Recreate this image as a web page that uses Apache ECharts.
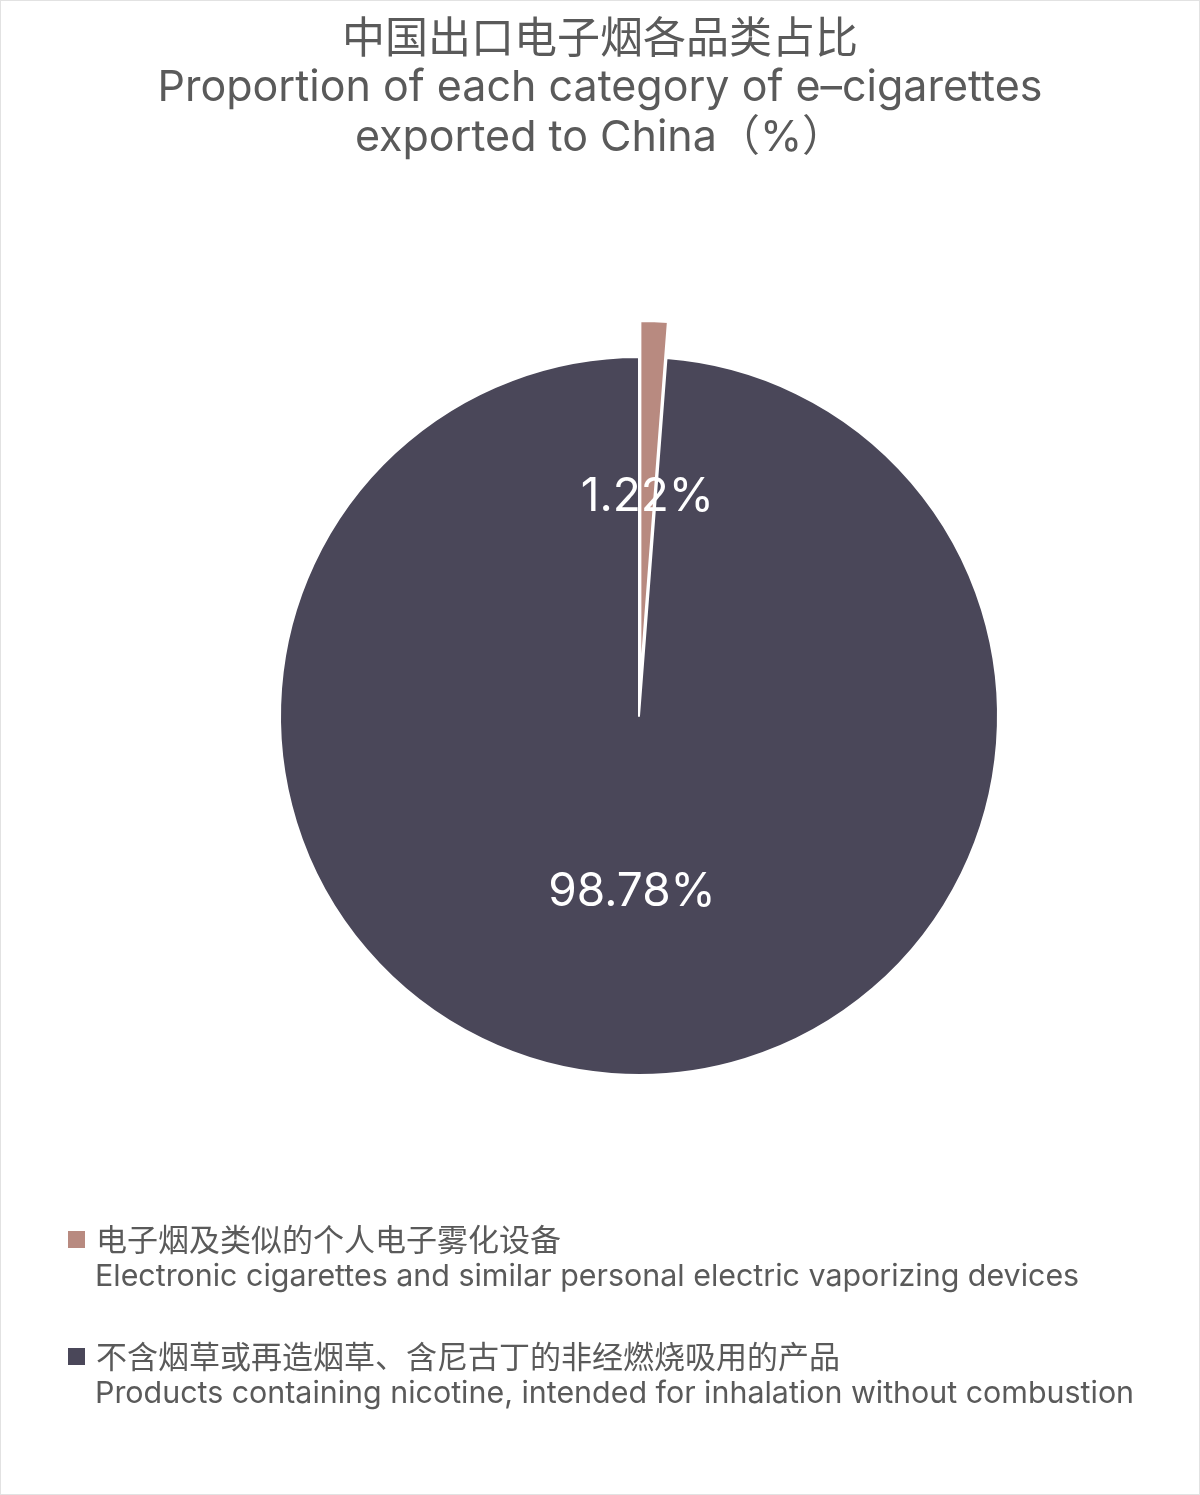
<!DOCTYPE html>
<html>
<head>
<meta charset="utf-8">
<script src="https://cdn.jsdelivr.net/npm/echarts@6/dist/echarts.min.js"></script>
<style>
html,body{margin:0;padding:0;background:#fff;}
#c{width:1200px;height:1495px;box-sizing:border-box;border:1px solid #e2e2e2;}
</style>
</head>
<body>
<div id="c"></div>
<script>
const titleCN = '中国出口电子烟各品类占比';
const titleEN = ['Proportion of each category of e–cigarettes', 'exported to China（%）'];
const categoriesCN = ['电子烟及类似的个人电子雾化设备', '不含烟草或再造烟草、含尼古丁的非经燃烧吸用的产品'];
const categoriesEN = ['Electronic cigarettes and similar personal electric vaporizing devices', 'Products containing nicotine, intended for inhalation without combustion'];
const shares = [1.22, 98.78];
const colors = ['#B88A80', '#4A4759'];

const chart = echarts.init(document.getElementById('c'), null, {renderer: 'canvas'});
const fontEN = 'Inter, "Noto Sans CJK SC", sans-serif';
const fontCN = '"Noto Sans CJK SC", sans-serif';
const textColor = '#5a5a5a';

const titles = [{
  text: titleCN,
  left: 'center',
  top: 11,
  padding: 0,
  textStyle: {fontFamily: fontCN, fontSize: 43, fontWeight: 'normal', color: textColor, lineHeight: 50}
}, {
  text: titleEN.join('\n'),
  left: 'center',
  top: 62,
  padding: 0,
  textStyle: {fontFamily: fontEN, fontSize: 43, fontWeight: 'normal', color: textColor, lineHeight: 50}
}];
categoriesEN.forEach((t, i) => {
  titles.push({
    text: t,
    left: 94,
    top: 1261 + i * 117,
    padding: 0,
    textStyle: {fontFamily: fontEN, fontSize: 30.4, fontWeight: 'normal', color: textColor}
  });
});

chart.setOption({
  backgroundColor: '#fff',
  title: titles,
  legend: {
    orient: 'vertical',
    left: 67,
    top: 1223,
    padding: 0,
    itemWidth: 17,
    itemHeight: 17,
    itemGap: 86,
    icon: 'rect',
    itemStyle: {borderWidth: 0},
    selectedMode: false,
    data: categoriesCN,
    textStyle: {fontFamily: fontCN, fontSize: 31, color: textColor, padding: [0, 0, 0, 6]}
  },
  series: [{
    type: 'pie',
    center: [638, 715],
    radius: 359,
    startAngle: 90,
    clockwise: true,
    selectedMode: 'multiple',
    selectedOffset: 36,
    animation: false,
    itemStyle: {borderColor: '#fff', borderWidth: 2},
    label: {
      show: true,
      position: 'inside',
      formatter: '{c}%',
      color: '#fff',
      fontFamily: fontEN,
      fontSize: 46
    },
    labelLayout: function (params) {
      return params.dataIndex === 1 ? {dy: -6} : {};
    },
    labelLine: {show: false},
    emphasis: {disabled: true},
    data: categoriesCN.map((n, i) => ({
      name: n,
      value: shares[i],
      selected: i === 0,
      itemStyle: {color: colors[i]}
    }))
  }]
});
</script>
</body>
</html>
